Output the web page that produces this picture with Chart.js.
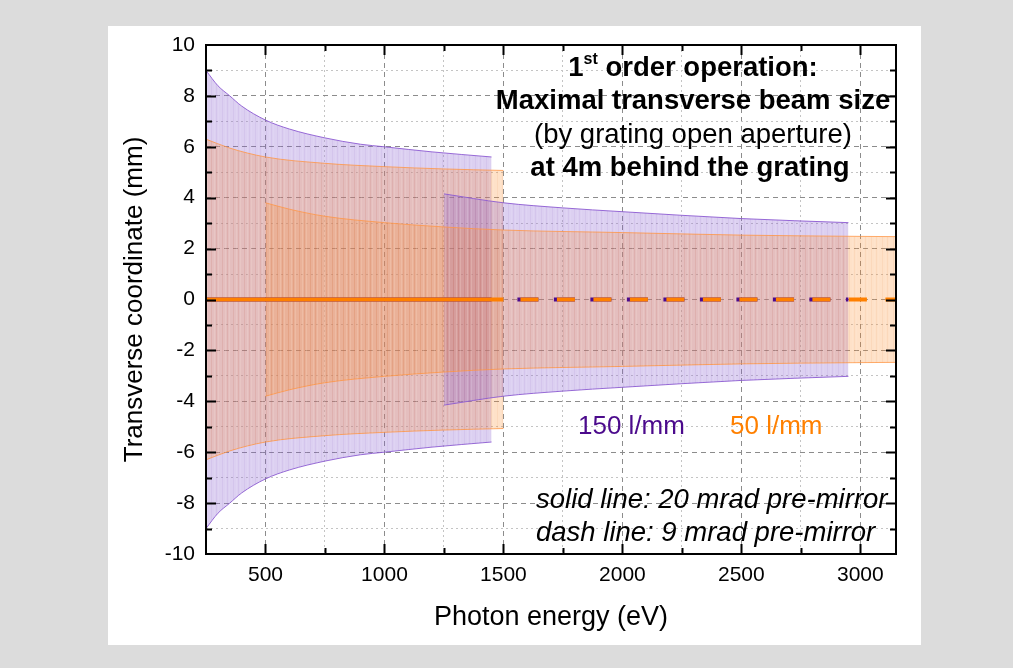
<!DOCTYPE html>
<html>
<head>
<meta charset="utf-8">
<script src="https://cdn.jsdelivr.net/npm/chart.js@4"></script>
<style>
  html, body { margin: 0; padding: 0; background: #dcdcdc; }
  #wrap { position: relative; width: 1013px; height: 668px; }
</style>
</head>
<body>
<div id="wrap"><canvas id="beam-chart"></canvas></div>
<script>
const FONT = "'Liberation Sans', Arial, sans-serif";

// half width of the beam (mm) vs photon energy (eV)
// 150 l/mm grating, 20 mrad pre-mirror
const energy150solid = [250, 300, 350, 400, 500, 600, 750, 900, 1000, 1200, 1450];
const half150solid = [9.0, 8.4, 8.0, 7.6, 7.05, 6.7, 6.35, 6.1, 6.0, 5.8, 5.6];

// 50 l/mm grating, 20 mrad pre-mirror
const energy50solid = [250, 350, 500, 750, 1000, 1250, 1500];
const half50solid = [6.3, 5.95, 5.6, 5.35, 5.22, 5.13, 5.07];

// 150 l/mm grating, 9 mrad pre-mirror
const energy150dash = [1250, 1500, 1750, 2000, 2500, 2950];
const half150dash = [4.15, 3.8, 3.6, 3.45, 3.18, 3.02];

// 50 l/mm grating, 9 mrad pre-mirror
const energy50dash = [500, 600, 750, 1000, 1250, 1500, 2000, 2500, 3000, 3150];
const half50dash = [3.8, 3.55, 3.27, 3.02, 2.85, 2.73, 2.63, 2.53, 2.48, 2.47];

// beam axis lines (energy range of each one)
const axis50solid = [250, 1500];
const axis150solid = [250, 1450];
const axis50dash = [1500, 3150];
const axis150dash = [1500, 2950];

const xTickValues = [500, 750, 1000, 1250, 1500, 1750, 2000, 2250, 2500, 2750, 3000];
const yTickValues = [-10, -9, -8, -7, -6, -5, -4, -3, -2, -1, 0, 1, 2, 3, 4, 5, 6, 7, 8, 9, 10];

const PURPLE = '#4b0a8c';
const ORANGE = '#ff8000';
const purpleEdge = 'rgba(140, 90, 210, 0.9)';
const orangeEdge = 'rgba(255, 150, 70, 0.8)';

// semi transparent fill with faint vertical stripes, like the drop lines in the original plot
function stripes(r, g, b, a) {
    const c = document.createElement('canvas');
    c.width = 11;
    c.height = 4;
    const p = c.getContext('2d');
    p.fillStyle = `rgba(${r}, ${g}, ${b}, ${a})`;
    p.fillRect(0, 0, 11, 4);
    p.fillStyle = `rgba(${r - 40}, ${g - 40}, ${b - 40}, 0.07)`;
    p.fillRect(2, 0, 1, 4);
    p.fillRect(7, 0, 1, 4);
    p.fillStyle = 'rgba(255, 255, 255, 0.08)';
    p.fillRect(5, 0, 1, 4);
    p.fillRect(9, 0, 1, 4);
    return p.createPattern(c, 'repeat');
}
const purpleFill = stripes(140, 100, 210, 0.30);
const orangeFill = stripes(250, 145, 50, 0.27);

function edge(xs, hs, sign) {
    return xs.map((x, i) => ({ x: x, y: sign * hs[i] }));
}
function flat(range) {
    return range.map(x => ({ x: x, y: 0 }));
}

function bandPair(xs, hs, fillColor, lineColor) {
    return [
        { data: edge(xs, hs, 1), borderColor: lineColor, borderWidth: 1, backgroundColor: fillColor, fill: '+1' },
        { data: edge(xs, hs, -1), borderColor: lineColor, borderWidth: 1, fill: false }
    ];
}

const datasets = [
    { data: flat(axis50dash), borderColor: ORANGE, borderWidth: 4, borderDash: [18, 18.5], borderDashOffset: 19.5, fill: false },
    { data: flat(axis150dash), borderColor: PURPLE, borderWidth: 4, borderDash: [21, 15.5], borderDashOffset: 22.5, fill: false },
    { data: flat(axis50solid), borderColor: ORANGE, borderWidth: 4, fill: false },
    { data: flat(axis150solid), borderColor: PURPLE, borderWidth: 4, fill: false },
    ...bandPair(energy50dash, half50dash, orangeFill, orangeEdge),
    ...bandPair(energy150dash, half150dash, purpleFill, purpleEdge),
    ...bandPair(energy50solid, half50solid, orangeFill, orangeEdge),
    ...bandPair(energy150solid, half150solid, purpleFill, purpleEdge)
];

// grey page with white panel
const panelPlugin = {
    id: 'panel',
    beforeDraw(chart) {
        const ctx = chart.ctx;
        ctx.save();
        ctx.fillStyle = '#dcdcdc';
        ctx.fillRect(0, 0, chart.width, chart.height);
        ctx.fillStyle = '#ffffff';
        ctx.fillRect(108, 26, 813, 619);
        ctx.restore();
    }
};

// frame, inward ticks and the text notes
const framePlugin = {
    id: 'frame',
    afterDraw(chart) {
        const ctx = chart.ctx;
        const area = chart.chartArea;
        const xs = chart.scales.x;
        const ys = chart.scales.y;
        ctx.save();
        ctx.strokeStyle = '#000';
        ctx.lineWidth = 2;
        ctx.strokeRect(area.left, area.top, area.right - area.left, area.bottom - area.top);

        ctx.beginPath();
        xTickValues.forEach(v => {
            const px = Math.round(xs.getPixelForValue(v)) + 0.5;
            const len = v % 500 === 0 ? 10 : 6;
            ctx.moveTo(px, area.bottom); ctx.lineTo(px, area.bottom - len);
            ctx.moveTo(px, area.top); ctx.lineTo(px, area.top + len);
        });
        yTickValues.forEach(v => {
            if (v === -10 || v === 10) return;
            const py = Math.round(ys.getPixelForValue(v)) + 0.5;
            const len = v % 2 === 0 ? 10 : 6;
            ctx.moveTo(area.left, py); ctx.lineTo(area.left + len, py);
            ctx.moveTo(area.right, py); ctx.lineTo(area.right - len, py);
        });
        ctx.stroke();

        // heading
        ctx.fillStyle = '#000';
        ctx.textBaseline = 'middle';
        ctx.textAlign = 'left';
        const cx = 693;
        const bold = 'bold 27.5px ' + FONT;
        const supFont = 'bold 16px ' + FONT;
        ctx.font = bold;
        const w1 = ctx.measureText('1').width;
        const w3 = ctx.measureText(' order operation:').width;
        ctx.font = supFont;
        const w2 = ctx.measureText('st').width;
        const sx = cx - (w1 + w2 + w3) / 2;
        ctx.font = bold;
        ctx.fillText('1', sx, 68);
        ctx.font = supFont;
        ctx.fillText('st', sx + w1, 60);
        ctx.font = bold;
        ctx.fillText(' order operation:', sx + w1 + w2, 68);

        ctx.textAlign = 'center';
        ctx.fillText('Maximal transverse beam size', cx, 101);
        ctx.font = '27.5px ' + FONT;
        ctx.fillText('(by grating open aperture)', cx, 135);
        ctx.font = bold;
        ctx.fillText('at 4m behind the grating', cx - 3, 168);

        // grating labels
        ctx.textAlign = 'left';
        ctx.font = '26px ' + FONT;
        ctx.fillStyle = PURPLE;
        ctx.fillText('150 l/mm', 578, 427);
        ctx.fillStyle = ORANGE;
        ctx.fillText('50 l/mm', 730, 427);

        // line style notes
        ctx.fillStyle = '#000';
        ctx.font = 'italic 27.5px ' + FONT;
        ctx.fillText('solid line: 20 mrad pre-mirror', 536, 500);
        ctx.fillText('dash line: 9 mrad pre-mirror', 536, 533);
        ctx.restore();
    }
};

const ctx = document.getElementById('beam-chart').getContext('2d');
new Chart(ctx, {
    type: 'line',
    data: { datasets: datasets },
    options: {
        responsive: true,
        maintainAspectRatio: false,
        animation: false,
        elements: {
            point: { radius: 0, hoverRadius: 0 },
            line: { cubicInterpolationMode: 'monotone' }
        },
        layout: { padding: { left: 108, top: 45, right: 117, bottom: 23 } },
        plugins: {
            legend: { display: false },
            tooltip: { enabled: false },
            filler: { propagate: false }
        },
        scales: {
            x: {
                type: 'linear',
                min: 250,
                max: 3150,
                afterBuildTicks: scale => { scale.ticks = xTickValues.map(v => ({ value: v })); },
                afterFit: scale => { scale.height = 91; },
                ticks: {
                    autoSkip: false,
                    maxRotation: 0,
                    padding: 9,
                    color: '#000',
                    font: { family: FONT, size: 21 },
                    callback: v => (v % 500 === 0 ? String(v) : '')
                },
                grid: {
                    drawTicks: false,
                    color: c => (c.tick && c.tick.value % 500 === 0 ? '#8c8c8c' : '#c4c4c4'),
                    lineWidth: 1
                },
                border: {
                    display: false,
                    dash: c => (c.tick && c.tick.value % 500 === 0 ? [5, 4] : [2, 3])
                },
                title: {
                    display: true,
                    text: 'Photon energy (eV)',
                    color: '#000',
                    font: { family: FONT, size: 27 },
                    padding: { top: 0, bottom: 11 }
                }
            },
            y: {
                type: 'linear',
                min: -10,
                max: 10,
                afterBuildTicks: scale => { scale.ticks = yTickValues.map(v => ({ value: v })); },
                afterFit: scale => { scale.width = 98; },
                ticks: {
                    autoSkip: false,
                    padding: 11,
                    color: '#000',
                    font: { family: FONT, size: 21 },
                    callback: v => (v % 2 === 0 ? String(v) : '')
                },
                grid: {
                    drawTicks: false,
                    color: c => (c.tick && c.tick.value % 2 === 0 ? '#8c8c8c' : '#c4c4c4'),
                    lineWidth: 1
                },
                border: {
                    display: false,
                    dash: c => (c.tick && c.tick.value % 2 === 0 ? [5, 4] : [2, 3])
                },
                title: {
                    display: true,
                    text: 'Transverse coordinate (mm)',
                    color: '#000',
                    font: { family: FONT, size: 26 },
                    padding: { top: 11, bottom: 0 }
                }
            }
        }
    },
    plugins: [panelPlugin, framePlugin]
});
</script>
</body>
</html>
